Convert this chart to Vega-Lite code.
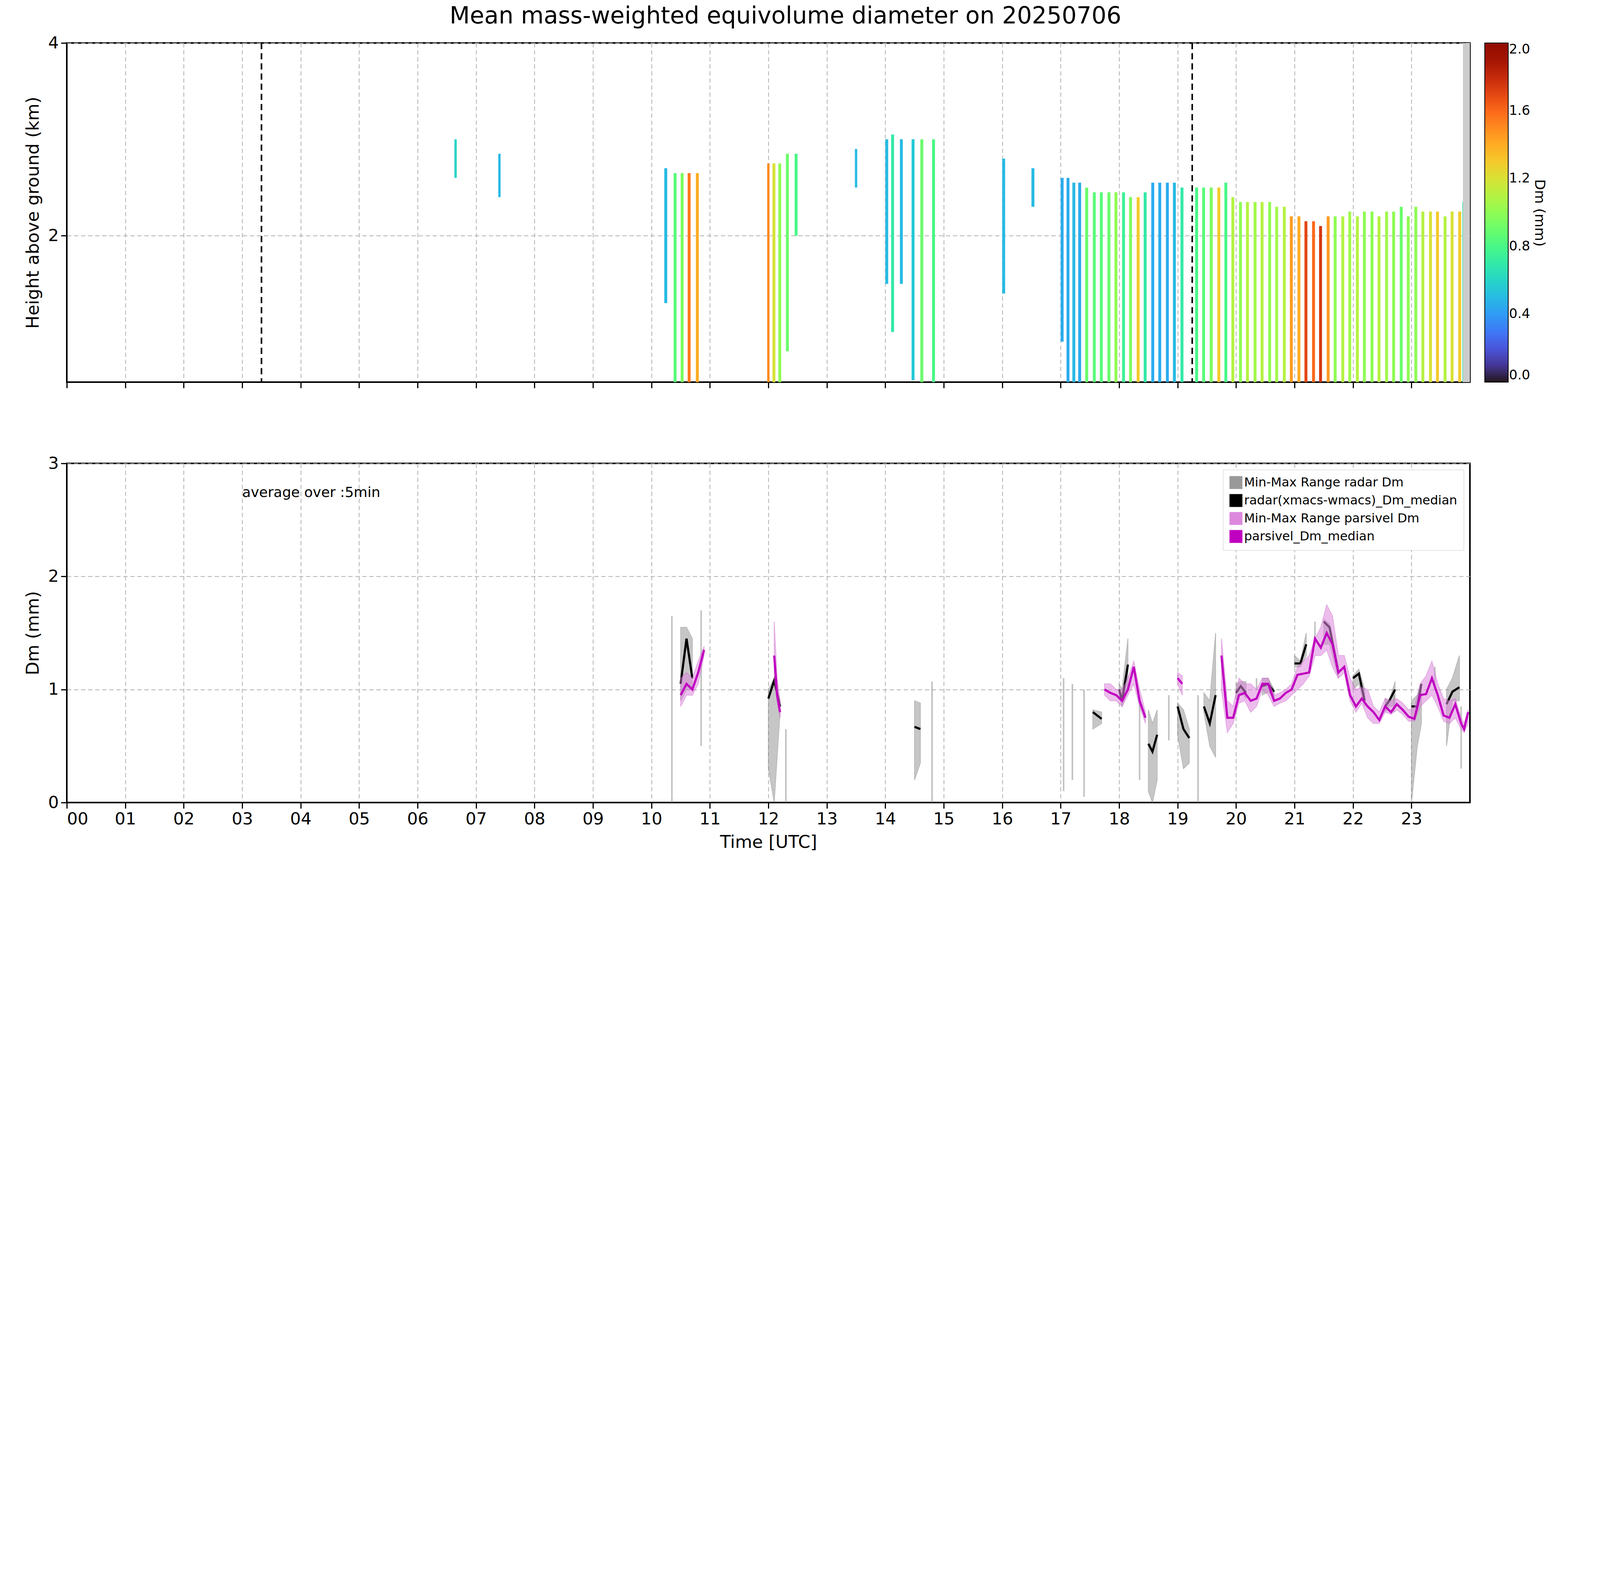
{
"$schema":"https://vega.github.io/schema/vega-lite/v6.json",
"background":"white",
"padding":{"left":60,"top":12,"right":10,"bottom":10},
"title":{"text":"Mean mass-weighted equivolume diameter on 20250706","fontSize":60,"fontWeight":"normal","font":"DejaVu Sans","offset":14,"anchor":"middle"},
"config":{"font":"DejaVu Sans","view":{"stroke":"black","strokeWidth":4},
 "axis":{"labelFontSize":43,"titleFontSize":45,"titleFontWeight":"normal","tickSize":15,"tickWidth":3,"domainColor":"black","domainWidth":3,"tickColor":"black","labelColor":"black","gridColor":"#b0b0b0","gridDash":[11,7],"gridWidth":2,"labelPadding":6,"titlePadding":15}},
"spacing":166,
"datasets":{
"bars":[
{"t0":6.63,"t1":6.67,"bot":2.6,"top":3.0,"dm":0.6},
{"t0":7.38,"t1":7.42,"bot":2.4,"top":2.85,"dm":0.5},
{"t0":10.22,"t1":10.27,"bot":1.3,"top":2.7,"dm":0.5},
{"t0":10.38,"t1":10.43,"bot":0.48,"top":2.65,"dm":0.85},
{"t0":10.5,"t1":10.55,"bot":0.48,"top":2.65,"dm":0.95},
{"t0":10.62,"t1":10.67,"bot":0.48,"top":2.65,"dm":1.55},
{"t0":10.76,"t1":10.81,"bot":0.48,"top":2.65,"dm":1.4},
{"t0":11.98,"t1":12.02,"bot":0.48,"top":2.75,"dm":1.5},
{"t0":12.07,"t1":12.12,"bot":0.48,"top":2.75,"dm":1.2},
{"t0":12.17,"t1":12.22,"bot":0.48,"top":2.75,"dm":1.0},
{"t0":12.3,"t1":12.35,"bot":0.8,"top":2.85,"dm":0.9},
{"t0":12.45,"t1":12.5,"bot":2.0,"top":2.85,"dm":0.8},
{"t0":13.48,"t1":13.52,"bot":2.5,"top":2.9,"dm":0.5},
{"t0":14.0,"t1":14.05,"bot":1.5,"top":3.0,"dm":0.5},
{"t0":14.1,"t1":14.15,"bot":1.0,"top":3.05,"dm":0.7},
{"t0":14.25,"t1":14.3,"bot":1.5,"top":3.0,"dm":0.5},
{"t0":14.45,"t1":14.5,"bot":0.5,"top":3.0,"dm":0.55},
{"t0":14.6,"t1":14.65,"bot":0.48,"top":3.0,"dm":0.9},
{"t0":14.8,"t1":14.85,"bot":0.48,"top":3.0,"dm":0.8},
{"t0":16.0,"t1":16.05,"bot":1.4,"top":2.8,"dm":0.5},
{"t0":16.5,"t1":16.55,"bot":2.3,"top":2.7,"dm":0.5},
{"t0":17.0,"t1":17.05,"bot":0.9,"top":2.6,"dm":0.45},
{"t0":17.1,"t1":17.15,"bot":0.48,"top":2.6,"dm":0.45},
{"t0":17.2,"t1":17.25,"bot":0.48,"top":2.55,"dm":0.5},
{"t0":17.3,"t1":17.35,"bot":0.48,"top":2.55,"dm":0.45},
{"t0":17.42,"t1":17.47,"bot":0.48,"top":2.5,"dm":0.9},
{"t0":17.55,"t1":17.6,"bot":0.48,"top":2.45,"dm":0.85},
{"t0":17.67,"t1":17.72,"bot":0.48,"top":2.45,"dm":0.85},
{"t0":17.8,"t1":17.85,"bot":0.48,"top":2.45,"dm":0.9},
{"t0":17.92,"t1":17.97,"bot":0.48,"top":2.45,"dm":1.0},
{"t0":18.05,"t1":18.1,"bot":0.48,"top":2.45,"dm":0.75},
{"t0":18.17,"t1":18.22,"bot":0.48,"top":2.4,"dm":0.95},
{"t0":18.3,"t1":18.35,"bot":0.48,"top":2.4,"dm":1.3},
{"t0":18.42,"t1":18.47,"bot":0.48,"top":2.45,"dm":0.7},
{"t0":18.55,"t1":18.6,"bot":0.48,"top":2.55,"dm":0.45},
{"t0":18.67,"t1":18.72,"bot":0.48,"top":2.55,"dm":0.45},
{"t0":18.8,"t1":18.85,"bot":0.48,"top":2.55,"dm":0.45},
{"t0":18.92,"t1":18.97,"bot":0.48,"top":2.55,"dm":0.5},
{"t0":19.05,"t1":19.1,"bot":0.48,"top":2.5,"dm":0.7},
{"t0":19.3,"t1":19.35,"bot":0.48,"top":2.5,"dm":0.8},
{"t0":19.42,"t1":19.47,"bot":0.48,"top":2.5,"dm":0.85},
{"t0":19.55,"t1":19.6,"bot":0.48,"top":2.5,"dm":0.95},
{"t0":19.68,"t1":19.73,"bot":0.48,"top":2.5,"dm":1.3},
{"t0":19.8,"t1":19.85,"bot":0.48,"top":2.55,"dm":0.8},
{"t0":19.92,"t1":19.97,"bot":0.48,"top":2.4,"dm":1.1},
{"t0":20.05,"t1":20.1,"bot":0.48,"top":2.35,"dm":1.0},
{"t0":20.17,"t1":20.22,"bot":0.48,"top":2.35,"dm":1.1},
{"t0":20.3,"t1":20.35,"bot":0.48,"top":2.35,"dm":1.05},
{"t0":20.42,"t1":20.47,"bot":0.48,"top":2.35,"dm":1.1},
{"t0":20.55,"t1":20.6,"bot":0.48,"top":2.35,"dm":1.0},
{"t0":20.67,"t1":20.72,"bot":0.48,"top":2.3,"dm":1.05},
{"t0":20.8,"t1":20.85,"bot":0.48,"top":2.3,"dm":1.1},
{"t0":20.92,"t1":20.97,"bot":0.48,"top":2.2,"dm":1.45},
{"t0":21.05,"t1":21.1,"bot":0.48,"top":2.2,"dm":1.4},
{"t0":21.17,"t1":21.22,"bot":0.48,"top":2.15,"dm":1.7},
{"t0":21.3,"t1":21.35,"bot":0.48,"top":2.15,"dm":1.6},
{"t0":21.42,"t1":21.47,"bot":0.48,"top":2.1,"dm":1.75},
{"t0":21.55,"t1":21.6,"bot":0.48,"top":2.2,"dm":1.45},
{"t0":21.67,"t1":21.72,"bot":0.48,"top":2.2,"dm":1.0},
{"t0":21.8,"t1":21.85,"bot":0.48,"top":2.2,"dm":1.1},
{"t0":21.92,"t1":21.97,"bot":0.48,"top":2.25,"dm":1.05},
{"t0":22.05,"t1":22.1,"bot":0.48,"top":2.2,"dm":1.1},
{"t0":22.17,"t1":22.22,"bot":0.48,"top":2.25,"dm":1.0},
{"t0":22.3,"t1":22.35,"bot":0.48,"top":2.25,"dm":1.0},
{"t0":22.42,"t1":22.47,"bot":0.48,"top":2.2,"dm":1.1},
{"t0":22.55,"t1":22.6,"bot":0.48,"top":2.25,"dm":1.05},
{"t0":22.67,"t1":22.72,"bot":0.48,"top":2.25,"dm":1.0},
{"t0":22.8,"t1":22.85,"bot":0.48,"top":2.3,"dm":0.9},
{"t0":22.92,"t1":22.97,"bot":0.48,"top":2.2,"dm":1.0},
{"t0":23.05,"t1":23.1,"bot":0.48,"top":2.3,"dm":1.0},
{"t0":23.17,"t1":23.22,"bot":0.48,"top":2.25,"dm":1.1},
{"t0":23.3,"t1":23.35,"bot":0.48,"top":2.25,"dm":1.2},
{"t0":23.42,"t1":23.47,"bot":0.48,"top":2.25,"dm":1.3},
{"t0":23.55,"t1":23.6,"bot":0.48,"top":2.2,"dm":1.1},
{"t0":23.67,"t1":23.72,"bot":0.48,"top":2.25,"dm":1.2},
{"t0":23.8,"t1":23.85,"bot":0.48,"top":2.25,"dm":1.3},
{"t0":23.87,"t1":23.9,"bot":0.48,"top":2.35,"dm":0.7}
],
"par":[
{"t":10.5,"s":"a","m":0.95,"lo":0.85,"hi":1.1},{"t":10.6,"s":"a","m":1.05,"lo":0.95,"hi":1.15},{"t":10.7,"s":"a","m":1.0,"lo":0.95,"hi":1.1},{"t":10.8,"s":"a","m":1.15,"lo":1.05,"hi":1.25},{"t":10.9,"s":"a","m":1.35,"lo":1.3,"hi":1.38},
{"t":12.1,"s":"b","m":1.3,"lo":1.1,"hi":1.6},{"t":12.15,"s":"b","m":0.95,"lo":0.9,"hi":1.1},{"t":12.2,"s":"b","m":0.8,"lo":0.75,"hi":0.9},
{"t":17.75,"s":"c","m":1.0,"lo":0.95,"hi":1.05},{"t":17.85,"s":"c","m":0.97,"lo":0.9,"hi":1.05},{"t":17.95,"s":"c","m":0.95,"lo":0.9,"hi":1.0},{"t":18.05,"s":"c","m":0.9,"lo":0.85,"hi":1.0},{"t":18.15,"s":"c","m":1.0,"lo":0.95,"hi":1.1},{"t":18.25,"s":"c","m":1.2,"lo":1.05,"hi":1.25},{"t":18.35,"s":"c","m":0.9,"lo":0.85,"hi":1.0},{"t":18.45,"s":"c","m":0.75,"lo":0.7,"hi":0.8},
{"t":19.0,"s":"d","m":1.1,"lo":1.05,"hi":1.15},{"t":19.08,"s":"d","m":1.05,"lo":0.95,"hi":1.12},
{"t":19.75,"s":"e","m":1.3,"lo":1.0,"hi":1.45},{"t":19.85,"s":"e","m":0.75,"lo":0.62,"hi":0.9},{"t":19.95,"s":"e","m":0.75,"lo":0.7,"hi":0.85},{"t":20.05,"s":"e","m":0.95,"lo":0.88,"hi":1.1},{"t":20.15,"s":"e","m":0.97,"lo":0.9,"hi":1.05},{"t":20.25,"s":"e","m":0.9,"lo":0.8,"hi":1.05},{"t":20.35,"s":"e","m":0.92,"lo":0.85,"hi":1.0},{"t":20.45,"s":"e","m":1.05,"lo":1.0,"hi":1.1},{"t":20.55,"s":"e","m":1.05,"lo":0.95,"hi":1.1},{"t":20.65,"s":"e","m":0.9,"lo":0.85,"hi":0.95},{"t":20.75,"s":"e","m":0.92,"lo":0.88,"hi":0.97},{"t":20.85,"s":"e","m":0.97,"lo":0.9,"hi":1.0},{"t":20.95,"s":"e","m":1.0,"lo":0.95,"hi":1.05},{"t":21.05,"s":"e","m":1.13,"lo":1.0,"hi":1.2},{"t":21.15,"s":"e","m":1.14,"lo":1.05,"hi":1.25},{"t":21.25,"s":"e","m":1.15,"lo":1.12,"hi":1.3},{"t":21.35,"s":"e","m":1.45,"lo":1.3,"hi":1.45},{"t":21.45,"s":"e","m":1.37,"lo":1.3,"hi":1.55},{"t":21.55,"s":"e","m":1.5,"lo":1.35,"hi":1.75},{"t":21.65,"s":"e","m":1.4,"lo":1.2,"hi":1.65},{"t":21.75,"s":"e","m":1.15,"lo":1.1,"hi":1.3},{"t":21.85,"s":"e","m":1.2,"lo":1.15,"hi":1.3},{"t":21.95,"s":"e","m":0.95,"lo":0.9,"hi":1.1},{"t":22.05,"s":"e","m":0.85,"lo":0.8,"hi":1.0},{"t":22.15,"s":"e","m":0.92,"lo":0.88,"hi":1.02},{"t":22.25,"s":"e","m":0.85,"lo":0.75,"hi":1.0},{"t":22.35,"s":"e","m":0.8,"lo":0.7,"hi":0.85},{"t":22.45,"s":"e","m":0.73,"lo":0.7,"hi":0.8},{"t":22.55,"s":"e","m":0.85,"lo":0.8,"hi":0.92},{"t":22.65,"s":"e","m":0.8,"lo":0.78,"hi":0.9},{"t":22.75,"s":"e","m":0.87,"lo":0.82,"hi":0.92},{"t":22.85,"s":"e","m":0.82,"lo":0.78,"hi":0.88},{"t":22.95,"s":"e","m":0.76,"lo":0.72,"hi":0.82},{"t":23.05,"s":"e","m":0.74,"lo":0.72,"hi":0.84},{"t":23.15,"s":"e","m":0.95,"lo":0.85,"hi":1.05},{"t":23.25,"s":"e","m":0.96,"lo":0.9,"hi":1.12},{"t":23.35,"s":"e","m":1.1,"lo":0.95,"hi":1.25},{"t":23.45,"s":"e","m":0.95,"lo":0.85,"hi":1.05},{"t":23.55,"s":"e","m":0.77,"lo":0.72,"hi":0.92},{"t":23.65,"s":"e","m":0.75,"lo":0.7,"hi":0.9},{"t":23.75,"s":"e","m":0.87,"lo":0.75,"hi":0.92},{"t":23.85,"s":"e","m":0.7,"lo":0.65,"hi":0.75},{"t":23.9,"s":"e","m":0.65,"lo":0.62,"hi":0.7},{"t":23.97,"s":"e","m":0.8,"lo":0.7,"hi":0.82}
],
"rad":[
{"t":10.5,"s":"a","m":1.05,"lo":0.9,"hi":1.55},{"t":10.6,"s":"a","m":1.45,"lo":1.0,"hi":1.55},{"t":10.7,"s":"a","m":1.1,"lo":1.0,"hi":1.45},
{"t":12.0,"s":"b","m":0.92,"lo":0.3,"hi":1.0},{"t":12.1,"s":"b","m":1.08,"lo":0.0,"hi":1.1},{"t":12.2,"s":"b","m":0.85,"lo":0.8,"hi":0.9},
{"t":14.5,"s":"c","m":0.67,"lo":0.2,"hi":0.9},{"t":14.6,"s":"c","m":0.65,"lo":0.35,"hi":0.88},
{"t":17.55,"s":"d","m":0.8,"lo":0.65,"hi":0.82},{"t":17.7,"s":"d","m":0.74,"lo":0.7,"hi":0.8},
{"t":18.0,"s":"e","m":1.0,"lo":0.95,"hi":1.05},{"t":18.05,"s":"e","m":0.9,"lo":0.85,"hi":1.0},{"t":18.15,"s":"e","m":1.22,"lo":1.0,"hi":1.45},
{"t":18.5,"s":"f","m":0.52,"lo":0.1,"hi":0.82},{"t":18.57,"s":"f","m":0.45,"lo":0.0,"hi":0.7},{"t":18.65,"s":"f","m":0.6,"lo":0.2,"hi":0.82},
{"t":19.0,"s":"g","m":0.85,"lo":0.6,"hi":0.88},{"t":19.1,"s":"g","m":0.65,"lo":0.3,"hi":0.82},{"t":19.2,"s":"g","m":0.57,"lo":0.35,"hi":0.65},
{"t":19.45,"s":"h","m":0.85,"lo":0.8,"hi":0.97},{"t":19.55,"s":"h","m":0.7,"lo":0.5,"hi":0.9},{"t":19.65,"s":"h","m":0.95,"lo":0.4,"hi":1.5},
{"t":20.0,"s":"i","m":0.97,"lo":0.92,"hi":1.05},{"t":20.08,"s":"i","m":1.03,"lo":0.98,"hi":1.07},{"t":20.17,"s":"i","m":0.97,"lo":0.92,"hi":1.07},
{"t":20.45,"s":"j","m":1.03,"lo":0.95,"hi":1.1},{"t":20.55,"s":"j","m":1.05,"lo":0.98,"hi":1.1},{"t":20.65,"s":"j","m":0.98,"lo":0.92,"hi":1.0},
{"t":21.0,"s":"k","m":1.23,"lo":1.2,"hi":1.3},{"t":21.1,"s":"k","m":1.23,"lo":1.2,"hi":1.25},{"t":21.2,"s":"k","m":1.4,"lo":1.3,"hi":1.5},
{"t":21.5,"s":"l","m":1.6,"lo":1.4,"hi":1.62},{"t":21.6,"s":"l","m":1.55,"lo":1.4,"hi":1.58},{"t":21.75,"s":"l","m":1.15,"lo":1.1,"hi":1.2},
{"t":22.0,"s":"m","m":1.1,"lo":1.0,"hi":1.12},{"t":22.1,"s":"m","m":1.14,"lo":1.05,"hi":1.18},{"t":22.2,"s":"m","m":0.9,"lo":0.85,"hi":1.0},
{"t":22.55,"s":"n","m":0.85,"lo":0.8,"hi":0.92},{"t":22.62,"s":"n","m":0.9,"lo":0.85,"hi":0.9},{"t":22.72,"s":"n","m":1.0,"lo":0.85,"hi":1.07},
{"t":23.0,"s":"o","m":0.85,"lo":0.0,"hi":0.9},{"t":23.1,"s":"o","m":0.85,"lo":0.5,"hi":0.95},{"t":23.17,"s":"o","m":1.05,"lo":0.7,"hi":1.05},
{"t":23.6,"s":"p","m":0.87,"lo":0.5,"hi":1.0},{"t":23.7,"s":"p","m":0.98,"lo":0.9,"hi":1.1},{"t":23.82,"s":"p","m":1.02,"lo":0.9,"hi":1.3}
],
"spk":[
{"t":10.35,"lo":0.0,"hi":1.65},{"t":10.85,"lo":0.5,"hi":1.7},{"t":12.3,"lo":0.0,"hi":0.65},{"t":14.8,"lo":0.0,"hi":1.07},{"t":17.05,"lo":0.1,"hi":1.1},{"t":17.2,"lo":0.2,"hi":1.05},{"t":17.4,"lo":0.05,"hi":1.0},{"t":18.35,"lo":0.2,"hi":0.9},{"t":18.85,"lo":0.55,"hi":0.95},{"t":19.35,"lo":0.0,"hi":0.95},{"t":20.35,"lo":1.0,"hi":1.1},{"t":21.35,"lo":1.4,"hi":1.6},{"t":22.7,"lo":0.8,"hi":0.95},{"t":23.4,"lo":1.0,"hi":1.2},{"t":23.85,"lo":0.3,"hi":0.85}
]
},
"vconcat":[
{"width":3592,"height":868,
 "layer":[
  {"data":{"name":"bars"},"mark":{"type":"rect"},
   "encoding":{"x":{"field":"t0","type":"quantitative","scale":{"domain":[0,24],"nice":false,"zero":false},
     "axis":{"values":[0,1,2,3,4,5,6,7,8,9,10,11,12,13,14,15,16,17,18,19,20,21,22,23],"labels":false,"title":null,"grid":true}},
    "x2":{"field":"t1"},
    "y":{"field":"bot","type":"quantitative","scale":{"domain":[0.48,4],"nice":false,"zero":false},"axis":{"values":[2,4],"title":"Height above ground (km)","grid":true}},
    "y2":{"field":"top"},
    "color":{"field":"dm","type":"quantitative","scale":{"scheme":"turbo","domain":[0,2]},
     "legend":{"title":"Dm (mm)","orient":"right","gradientLength":868,"gradientThickness":60,"values":[0,0.4,0.8,1.2,1.6,2.0],"format":".1f","labelFontSize":34,"titleFontSize":36,"titleFontWeight":"normal","titleOrient":"right","titleAngle":90,"titleLimit":1000,"titleAnchor":"middle","offset":38,"gradientStrokeColor":"black","gradientStrokeWidth":2}}}},
  {"data":{"values":[{"t":3.33},{"t":19.25}]},"mark":{"type":"rule","color":"black","strokeDash":[16,10],"strokeWidth":4},
   "encoding":{"x":{"field":"t","type":"quantitative"}}},
  {"data":{"values":[{"a":23.88,"b":24}]},"mark":{"type":"rect","color":"#cccccc"},
   "encoding":{"x":{"field":"a","type":"quantitative"},"x2":{"field":"b"}}}
 ]},
{"width":3592,"height":868,
 "layer":[
  {"data":{"name":"spk"},"mark":{"type":"rule","color":"#999999","opacity":0.6,"strokeWidth":4},
   "encoding":{"x":{"field":"t","type":"quantitative","scale":{"domain":[0,24],"nice":false,"zero":false},
     "axis":{"values":[0,1,2,3,4,5,6,7,8,9,10,11,12,13,14,15,16,17,18,19,20,21,22,23],"labelExpr":"(datum.value<10?'0':'')+datum.value","title":"Time [UTC]","grid":true}},
    "y":{"field":"lo","type":"quantitative","scale":{"domain":[0,3],"nice":false},"axis":{"values":[0,1,2,3],"format":"d","title":"Dm (mm)","grid":true}},
    "y2":{"field":"hi"}}},
  {"data":{"name":"rad"},"transform":[{"calculate":"'Min-Max Range radar Dm'","as":"k"}],"mark":{"type":"area","opacity":0.55,"stroke":"#808080","strokeWidth":2},
   "encoding":{"x":{"field":"t","type":"quantitative"},"y":{"field":"lo","type":"quantitative"},"y2":{"field":"hi"},"detail":{"field":"s"},
    "color":{"field":"k","type":"nominal","scale":{"domain":["Min-Max Range radar Dm","radar(xmacs-wmacs)_Dm_median","Min-Max Range parsivel Dm","parsivel_Dm_median"],"range":["#999999","black","#dd88dd","#c000c0"]},
     "legend":{"title":null,"orient":"top-right","fillColor":"white","strokeColor":"#cccccc","padding":16,"labelFontSize":32,"symbolType":"square","symbolSize":1000,"symbolOpacity":1,"rowPadding":8,"offset":16,"labelLimit":1500}}}},
  {"data":{"name":"rad"},"transform":[{"calculate":"'radar(xmacs-wmacs)_Dm_median'","as":"k"}],"mark":{"type":"line","strokeWidth":5.5},
   "encoding":{"x":{"field":"t","type":"quantitative"},"y":{"field":"m","type":"quantitative"},"detail":{"field":"s"},"color":{"field":"k","type":"nominal"}}},
  {"data":{"name":"par"},"transform":[{"calculate":"'Min-Max Range parsivel Dm'","as":"k"}],"mark":{"type":"area","opacity":0.55,"stroke":"#cc66cc","strokeWidth":2},
   "encoding":{"x":{"field":"t","type":"quantitative"},"y":{"field":"lo","type":"quantitative"},"y2":{"field":"hi"},"detail":{"field":"s"},"color":{"field":"k","type":"nominal"}}},
  {"data":{"name":"par"},"transform":[{"calculate":"'parsivel_Dm_median'","as":"k"}],"mark":{"type":"line","strokeWidth":5.5},
   "encoding":{"x":{"field":"t","type":"quantitative"},"y":{"field":"m","type":"quantitative"},"detail":{"field":"s"},"color":{"field":"k","type":"nominal"}}},
  {"data":{"values":[{"t":3.0,"y":2.74,"txt":"average over :5min"}]},"mark":{"type":"text","align":"left","baseline":"middle","fontSize":36,"color":"black"},
   "encoding":{"x":{"field":"t","type":"quantitative"},"y":{"field":"y","type":"quantitative"},"text":{"field":"txt"}}}
 ]}
]
}
